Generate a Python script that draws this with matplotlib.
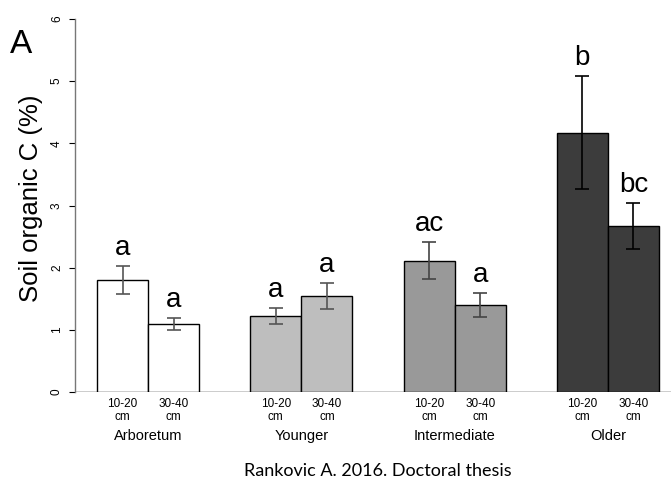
import matplotlib
matplotlib.use("Agg")
import matplotlib.pyplot as plt
import matplotlib.transforms as mtransforms

plt.rcParams['font.family'] = ['Liberation Sans', 'DejaVu Sans']

# soil organic carbon by stand age and depth
groups = ['Arboretum', 'Younger', 'Intermediate', 'Older']
depths = ['10-20\ncm', '30-40\ncm']
means = [[1.80, 1.09], [1.22, 1.54], [2.11, 1.40], [4.17, 2.67]]
errors = [[0.23, 0.095], [0.13, 0.21], [0.30, 0.19], [0.91, 0.375]]
letters = [['a', 'a'], ['a', 'a'], ['ac', 'a'], ['b', 'bc']]
fills = ['white', '#bebebe', '#999999', '#3c3c3c']
err_cols = ['#555555', '#555555', '#444444', 'black']

fig = plt.figure(figsize=(6.71, 4.80), dpi=100)
ax = fig.add_axes([74.5 / 671, 88 / 480, (671 - 74.5) / 671, 373 / 480])

xs, xlabels = [], []
for g in range(len(groups)):
    for k in range(2):
        x = 1.5 + 3 * g + k
        xs.append(x)
        xlabels.append(depths[k])
        m, e = means[g][k], errors[g][k]
        ax.bar(x, m, width=1.0, color=fills[g], edgecolor='black', linewidth=1.0, zorder=2)
        ax.errorbar(x, m, yerr=e, fmt='none', ecolor=err_cols[g], elinewidth=1.2,
                    capsize=5, capthick=1.2, zorder=3)
        ax.text(x, m + e + 0.18, letters[g][k], ha='center', va='baseline', fontsize=20)
    ax.text(2 + 3 * g, -0.129, groups[g], ha='center', va='baseline', fontsize=10.5,
            transform=mtransforms.blended_transform_factory(ax.transData, ax.transAxes))

ax.axhline(0, color='black', linewidth=1.0, zorder=1)
ax.set_xlim(0.56, 12.235)
ax.set_ylim(0, 6)
ax.set_xticks(xs)
ax.set_xticklabels(xlabels, fontsize=8.5, linespacing=1.15)
ax.tick_params(axis='x', length=0, pad=4)
ax.set_yticks(range(7))
ax.tick_params(axis='y', length=4.3, width=0.8, pad=4, labelsize=8.5, labelrotation=90, color='black')
plt.setp(ax.get_yticklabels(), va='center')

for side in ['top', 'right', 'bottom']:
    ax.spines[side].set_visible(False)
ax.spines['left'].set_bounds(0, 6)
ax.spines['left'].set_color('#777777')
ax.spines['left'].set_linewidth(1.0)

ax.set_ylabel('Soil organic C (%)', fontsize=18.5)
ax.yaxis.set_label_coords(-0.053, 0.52)

fig.text(10 / 671, 1 - 53 / 480, 'A', fontsize=24, va='baseline')
fig.text(378 / 671, 1 - 476 / 480, 'Rankovic A. 2016. Doctoral thesis', ha='center',
         va='baseline', fontsize=13, family='Lato')

fig.savefig('out.png', dpi=100)
